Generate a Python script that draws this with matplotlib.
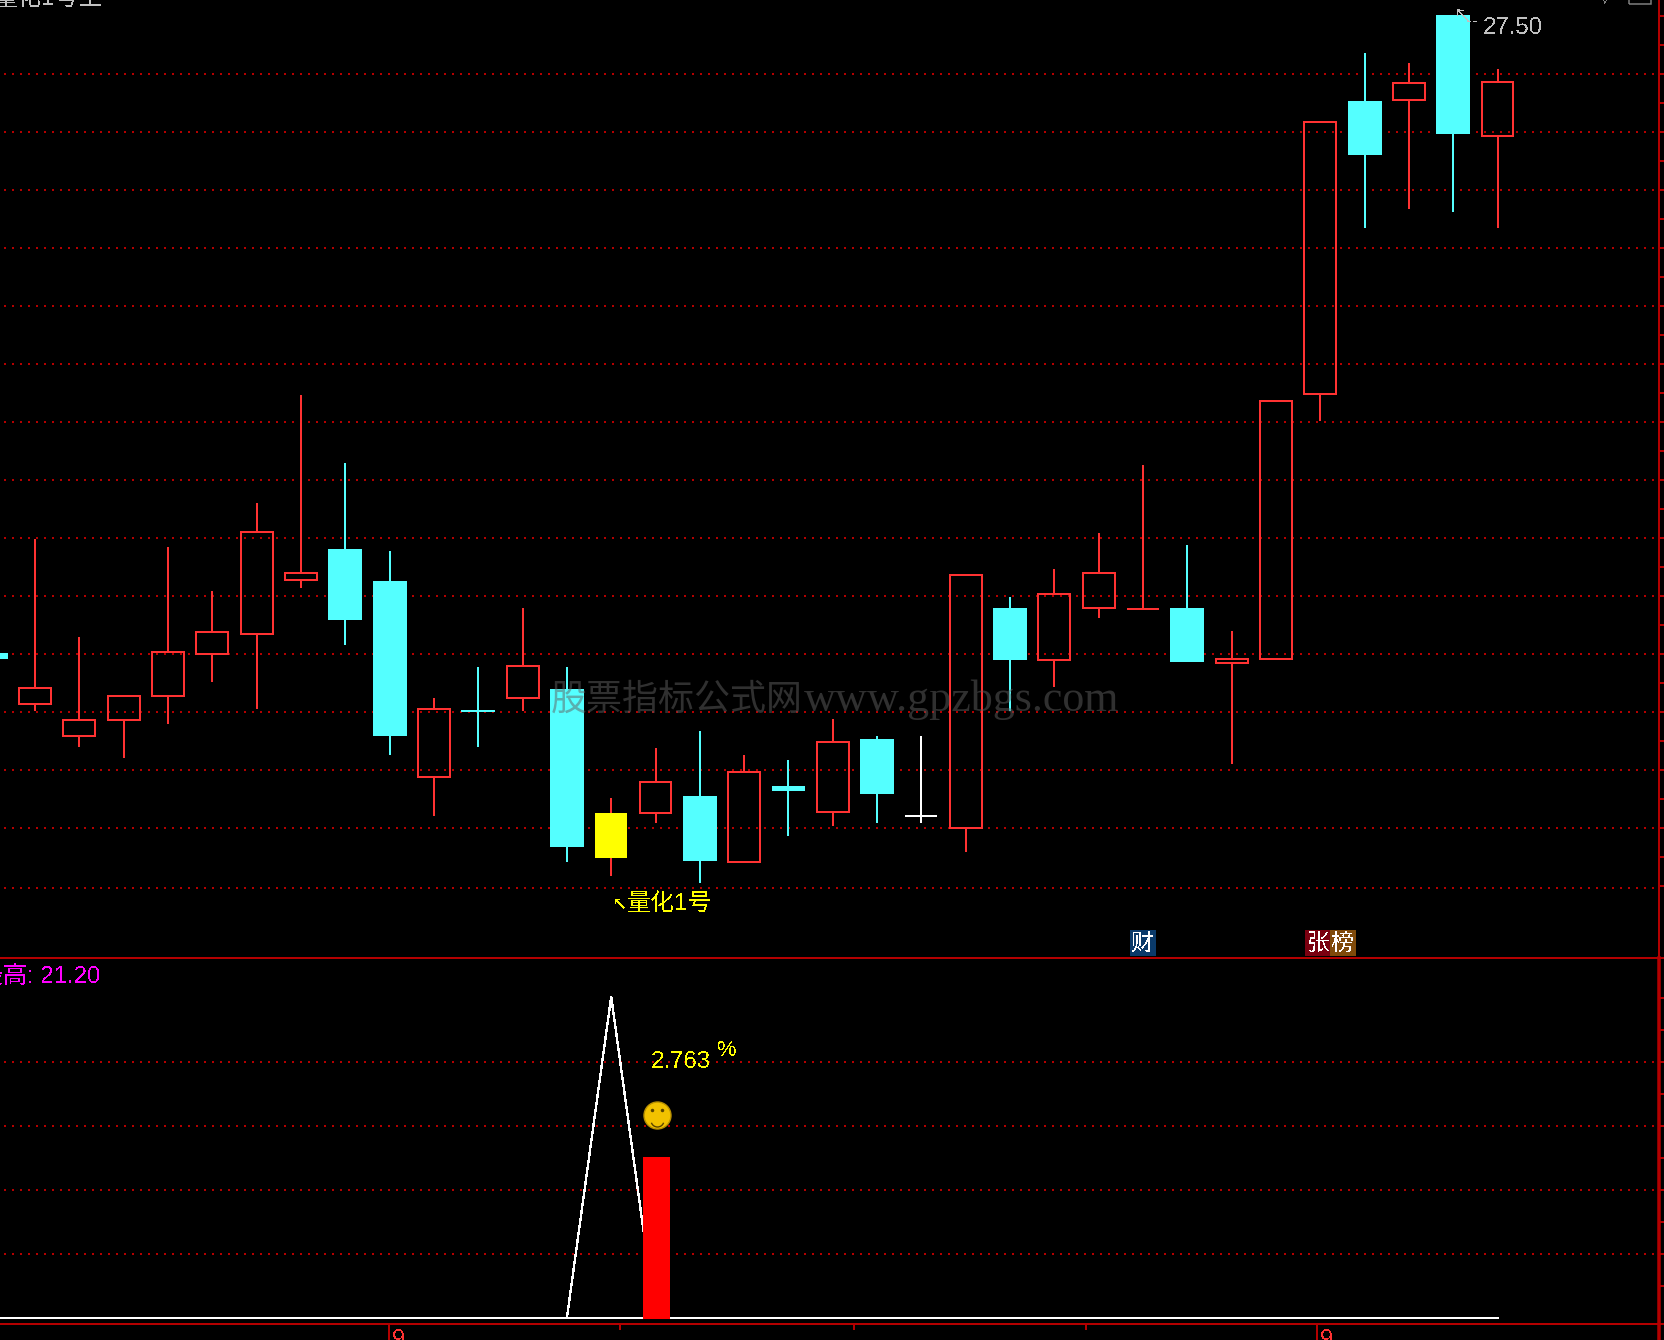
#!/usr/bin/env python3
import numpy as np
import matplotlib
matplotlib.use("Agg")
import matplotlib.pyplot as plt
import matplotlib.path as mpath
from matplotlib.patches import Rectangle

W, H = 1665, 1340
PX = 72 / 100  # one pixel in points at dpi 100

plt.rcParams["font.family"] = ["Liberation Sans", "Noto Sans CJK SC", "DejaVu Sans"]
plt.rcParams["text.antialiased"] = False

# candles, price units
highs = [22.00, 22.98, 22.14, 21.63, 22.91, 22.53, 23.29, 24.22, 23.64, 22.88, 21.61, 21.88,
         22.39, 21.88, 20.75, 21.18, 21.33, 21.12, 21.08, 21.43, 21.28, 21.28, 22.67, 22.48,
         22.72, 23.03, 23.62, 22.93, 22.19, 24.17, 26.58, 27.17, 27.09, 27.50, 27.03]
lows = [21.95, 21.50, 21.19, 21.09, 21.39, 21.75, 21.52, 22.56, 22.07, 21.12, 20.59, 21.19,
        21.50, 20.20, 20.08, 20.53, 20.02, 20.20, 20.42, 20.51, 20.53, 20.53, 20.28, 21.50,
        21.71, 22.30, 22.38, 21.92, 21.04, 21.95, 24.00, 25.66, 25.83, 25.80, 25.66]
opens = [22.00, 21.56, 21.28, 21.42, 21.63, 21.99, 22.16, 22.63, 22.90, 22.62, 20.93, 21.51,
         21.61, 21.69, 20.62, 20.62, 20.77, 20.20, 20.85, 20.63, 21.26, 20.59, 20.49, 22.39,
         21.94, 22.39, 22.38, 22.39, 21.91, 21.95, 24.23, 26.76, 26.77, 27.50, 26.46]
closes = [21.95, 21.70, 21.42, 21.63, 22.01, 22.18, 23.04, 22.69, 22.28, 21.28, 21.52, 21.49,
          21.89, 20.33, 20.23, 20.89, 20.21, 20.97, 20.81, 21.23, 20.78, 20.59, 22.67, 21.94,
          22.51, 22.69, 22.38, 21.92, 21.95, 24.17, 26.58, 26.29, 26.91, 26.47, 26.92]
signal_candle = 14
white_candle = 21

price_grid = [26.99, 26.49, 25.99, 25.49, 24.99, 24.49, 23.99, 23.49, 22.99, 22.49, 21.99, 21.49,
              20.99, 20.49, 19.97]
price_ticks = np.arange(19.99, 27.74, 0.25)

# lower panel
line_values = [0] * 35
line_values[14] = 5.02
bar_index = 15
bar_value = 2.52
smile_value = 3.17
lower_grid = [1, 2, 3, 4]
lower_ticks = [0.5, 1, 1.5, 2, 2.5, 3, 3.5, 4, 4.5, 5]
date_ticks_major = [8.98, 29.93]
date_ticks_minor = [14.2, 19.48, 24.71]
date_labels = ["9", "9"]

RED = "#ff3232"
DARK_RED = "#b40000"
CYAN = "#54ffff"
YELLOW = "#ffff00"
GREY = "#c0c0c0"

x = np.arange(len(opens))
XPITCH = 44.315
X0 = -9.2
xlim = ((0 - X0) / XPITCH, (W - X0) / XPITCH)
axis_x = (1659 - X0) / XPITCH
grid_x0 = (4 - X0) / XPITCH
grid_x1 = (1655 - X0) / XPITCH

fig = plt.figure(figsize=(W / 100, H / 100), dpi=100, facecolor="black")
ax1 = fig.add_axes([0, 1 - 958 / H, 1, 958 / H], facecolor="black")
ax2 = fig.add_axes([0, 0, 1, (H - 958) / H], facecolor="black")
ax2.patch.set_visible(False)


def setup(ax, lw):
    for side in ["left", "top"]:
        ax.spines[side].set_visible(False)
    ax.spines["right"].set_position(("data", axis_x))
    ax.spines["right"].set_color(DARK_RED)
    ax.spines["right"].set_linewidth(lw * PX)
    ax.spines["bottom"].set_visible(False)
    ax.yaxis.tick_right()
    ax.tick_params(axis="y", colors=DARK_RED, length=5 * PX, width=2 * PX, labelright=False)
    ax.set_xlim(*xlim)
    ax.set_xticks([])


dots = (0, (1, 3))

# upper panel
setup(ax1, 2)
ax1.set_ylim(19.37, 27.629)
ax1.set_yticks(price_ticks)
ax1.hlines(price_grid, grid_x0, grid_x1, color=DARK_RED, lw=2 * PX, linestyles=[dots], zorder=1)

for i in x:
    top = max(opens[i], closes[i])
    bottom = min(opens[i], closes[i])
    up = closes[i] >= opens[i]
    wick = RED if up else CYAN
    if i == signal_candle:
        wick = RED
    if i == white_candle:
        wick = "white"
    ax1.vlines(i, top, highs[i], color=wick, lw=2 * PX, zorder=3, antialiased=False)
    ax1.vlines(i, lows[i], bottom, color=wick, lw=2 * PX, zorder=3, antialiased=False)
    if i == signal_candle:
        ax1.bar(i, top - bottom, 0.72, bottom, color=YELLOW, linewidth=0, zorder=4)
    elif up:
        ax1.bar(i, top - bottom, 0.72, bottom, facecolor="none", edgecolor=wick,
                linewidth=2 * PX, zorder=4)
    else:
        ax1.bar(i, top - bottom, 0.765, bottom, color=CYAN, linewidth=0, zorder=4)

# lower panel
setup(ax2, 3.5)
ax2.set_ylim((1318 - H) / 64, (1318 - 958) / 64)
ax2.set_yticks(lower_ticks)
ax2.hlines(lower_grid, grid_x0, grid_x1, color=DARK_RED, lw=2 * PX, linestyles=[dots], zorder=1)
ax2.axhline((1318 - 958) / 64, color=DARK_RED, lw=2 * PX, zorder=2, clip_on=False)
ax2.axhline((1318 - 1324) / 64, color=DARK_RED, lw=2 * PX, zorder=2)
ax2.plot(x, line_values, color="white", lw=1.3 * PX, zorder=3, antialiased=False)
ax2.hlines(0, x[0], x[-1], color="white", lw=2 * PX, zorder=3)
ax2.bar(bar_index + 0.02, bar_value + 0.015, 0.6, -0.015, color="#ff0000", linewidth=0, zorder=4)

tick_base = (1318 - 1325) / 64
ax2.vlines(date_ticks_major, (1318 - H) / 64, tick_base, color=DARK_RED, lw=2 * PX, zorder=2)
ax2.vlines(date_ticks_minor, (1318 - 1330) / 64, tick_base, color=DARK_RED, lw=2 * PX, zorder=2)
for pos, lab in zip(date_ticks_major, date_labels):
    ax2.text(pos + 0.07, (1318 - 1329) / 64, lab, color=RED, fontsize=17, va="top", ha="left")

# smiley
ax2.plot(bar_index + 0.03, smile_value, "o", ms=27 * PX, mfc="#f2c200", mec="#b89000", mew=1, zorder=5)
ax2.plot([bar_index - 0.08, bar_index + 0.14], [smile_value + 0.08, smile_value + 0.08], "o",
         ms=3.5 * PX, mfc="#5a4400", mec="none", zorder=6)
ax2.plot(bar_index + 0.03, smile_value - 0.07, marker=mpath.Path.arc(200, 340), ms=13 * PX, mfc="none",
         mec="#5a4400", mew=1, zorder=6)


def label(px, py, s, color, size, **kw):
    kw.setdefault("va", "center")
    kw.setdefault("ha", "left")
    return fig.text(px / W, 1 - py / H, s, color=color, fontsize=size * PX, **kw)


label(-6, 5, "量化1号主", GREY, 24, va="baseline")
label(1598, 0, "∨", "#808080", 14, va="center")
fig.add_artist(Rectangle((1629 / W, 1 - 4 / H), 22 / W, 8 / H, transform=fig.transFigure,
                         facecolor="none", edgecolor="#808080", lw=1.5 * PX))

label(1483, 28, "27.50", GREY, 24)
label(1453, 18, "↖", GREY, 20, zorder=8)
label(1466, 22, "--", GREY, 18, zorder=8)

label(612, 904, "↖", YELLOW, 18, family=["DejaVu Sans"])
label(627, 904, "量化1号", YELLOW, 24)
label(-21, 977, "最高: 21.20", "#ff00ff", 24)
label(651, 1062, "2.763", YELLOW, 24)
label(717, 1050, "%", YELLOW, 22)

label(1143, 943, "财", "white", 23, ha="center", zorder=8,
      bbox=dict(boxstyle="square,pad=0.06", facecolor="#0a3a6a", edgecolor="none"))
label(1318, 943, "张", "white", 23, ha="center", zorder=8,
      bbox=dict(boxstyle="square,pad=0.06", facecolor="#7a0010", edgecolor="none"))
label(1343, 943, "榜", "white", 23, ha="center", zorder=8,
      bbox=dict(boxstyle="square,pad=0.06", facecolor="#7f4a0a", edgecolor="none"))

wm_cjk = label(551, 700, "股票指标公式网", "#606060", 36, alpha=0.5, zorder=9,
               family=["Noto Sans CJK SC"])
wm_cjk.set_antialiased(True)
wm_url = label(804, 700, "www.gpzbgs.com", "#606060", 44, alpha=0.5, zorder=9,
               family=["Liberation Serif"])
wm_url.set_antialiased(True)

fig.savefig("out.png", dpi=100, facecolor="black")
